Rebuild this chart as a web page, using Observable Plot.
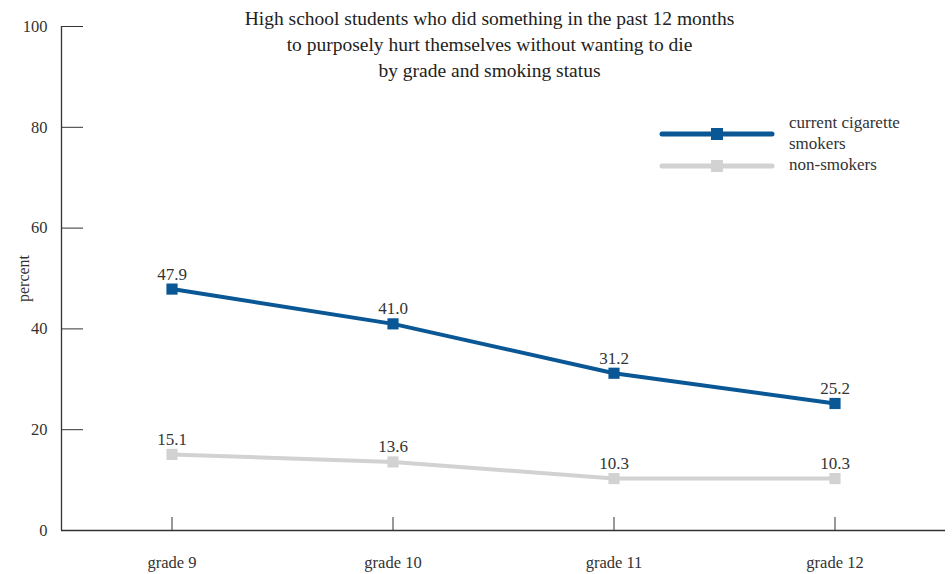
<!DOCTYPE html>
<html><head><meta charset="utf-8">
<script src="https://cdn.jsdelivr.net/npm/d3@7"></script>
<script src="https://cdn.jsdelivr.net/npm/@observablehq/plot@0.6"></script>
<style>
body{margin:0;background:#fff;font-family:"Liberation Serif",serif;}
#wrap{position:relative;width:952px;height:574px;}
.lg{position:absolute;font-size:17px;color:#333;line-height:21px;white-space:nowrap;}
</style></head><body><div id="wrap"></div>
<script>
const grades = [9, 10, 11, 12];
const gradeLabels = ["grade 9", "grade 10", "grade 11", "grade 12"];
const smokers = [47.9, 41.0, 31.2, 25.2];
const nonSmokers = [15.1, 13.6, 10.3, 10.3];
const seriesNames = ["current cigarette smokers", "non-smokers"];
const legendLabels = [["current cigarette", "smokers"], ["non-smokers"]];
const colors = ["#0a5796", "#d2d2d2"];
const yTicks = [0, 20, 40, 60, 80, 100];
const titleLines = [
  "High school students who did something in the past 12 months",
  "to purposely hurt themselves without wanting to die",
  "by grade and smoking status"
];
const yLabel = "percent";

const rows = [
  ...grades.map((g, i) => ({grade: g, value: smokers[i], series: seriesNames[0]})),
  ...grades.map((g, i) => ({grade: g, value: nonSmokers[i], series: seriesNames[1]}))
];

const axisColor = "#333";
const chart = Plot.plot({
  width: 952, height: 574,
  marginLeft: 61, marginRight: 7, marginTop: 26, marginBottom: 44,
  style: {fontFamily: "'Liberation Serif', serif", fontSize: "16px", color: "#333", background: "#fff"},
  x: {domain: [8.5, 12.5]},
  y: {domain: [0, 100]},
  color: {domain: seriesNames, range: colors},
  marks: [
    Plot.axisX({ticks: grades, tickSize: 13, dy: -13, fill: "none", label: null, stroke: axisColor}),
    Plot.axisX({ticks: grades, tickSize: 0, tickPadding: 26, stroke: "none", label: null,
      tickFormat: d => gradeLabels[grades.indexOf(d)], fontSize: 16.5, fill: "#333"}),
    Plot.axisY({ticks: yTicks, tickSize: 22, dx: 22, fill: "none", label: null, stroke: axisColor}),
    Plot.axisY({ticks: yTicks, tickSize: 0, tickPadding: 14, stroke: "none", label: null, fontSize: 16.5, fill: "#333"}),
    Plot.ruleY([0], {stroke: axisColor, strokeWidth: 1.3}),
    Plot.ruleX([8.5], {stroke: axisColor, strokeWidth: 1.3}),
    Plot.line(rows, {x: "grade", y: "value", z: "series", stroke: "series", strokeWidth: 4}),
    Plot.dot(rows, {x: "grade", y: "value", fill: "series", symbol: "square", r: 6.3}),
    Plot.text(rows, {x: "grade", y: "value", text: d => d.value.toFixed(1), dy: -15, fill: "#333", fontSize: 17}),
    Plot.text([titleLines.join("\n")], {frameAnchor: "top", dx: -14, dy: -20, lineAnchor: "top", fontSize: 19.5, lineHeight: 1.33, fill: "#222"}),
    Plot.text([yLabel], {frameAnchor: "left", textAnchor: "middle", rotate: -90, dx: -38, fontSize: 16, fill: "#333"})
  ]
});
const wrap = document.getElementById("wrap");
wrap.appendChild(chart);

// legend
const legendTop = [134, 166];
seriesNames.forEach((s, i) => {
  const svg = document.createElementNS("http://www.w3.org/2000/svg", "svg");
  svg.setAttribute("width", 124); svg.setAttribute("height", 16);
  svg.style.position = "absolute"; svg.style.left = "655px"; svg.style.top = (legendTop[i] - 8) + "px";
  svg.innerHTML = `<line x1="7" y1="8" x2="117" y2="8" stroke="${colors[i]}" stroke-width="5" stroke-linecap="round"/>` +
    `<rect x="56" y="2" width="12" height="12" fill="${colors[i]}"/>`;
  wrap.appendChild(svg);
  const t = document.createElement("div");
  t.className = "lg";
  t.innerHTML = legendLabels[i].join("<br>");
  t.style.left = "789px";
  t.style.top = (i === 0 ? 112 : 154) + "px";
  wrap.appendChild(t);
});
</script></body></html>
